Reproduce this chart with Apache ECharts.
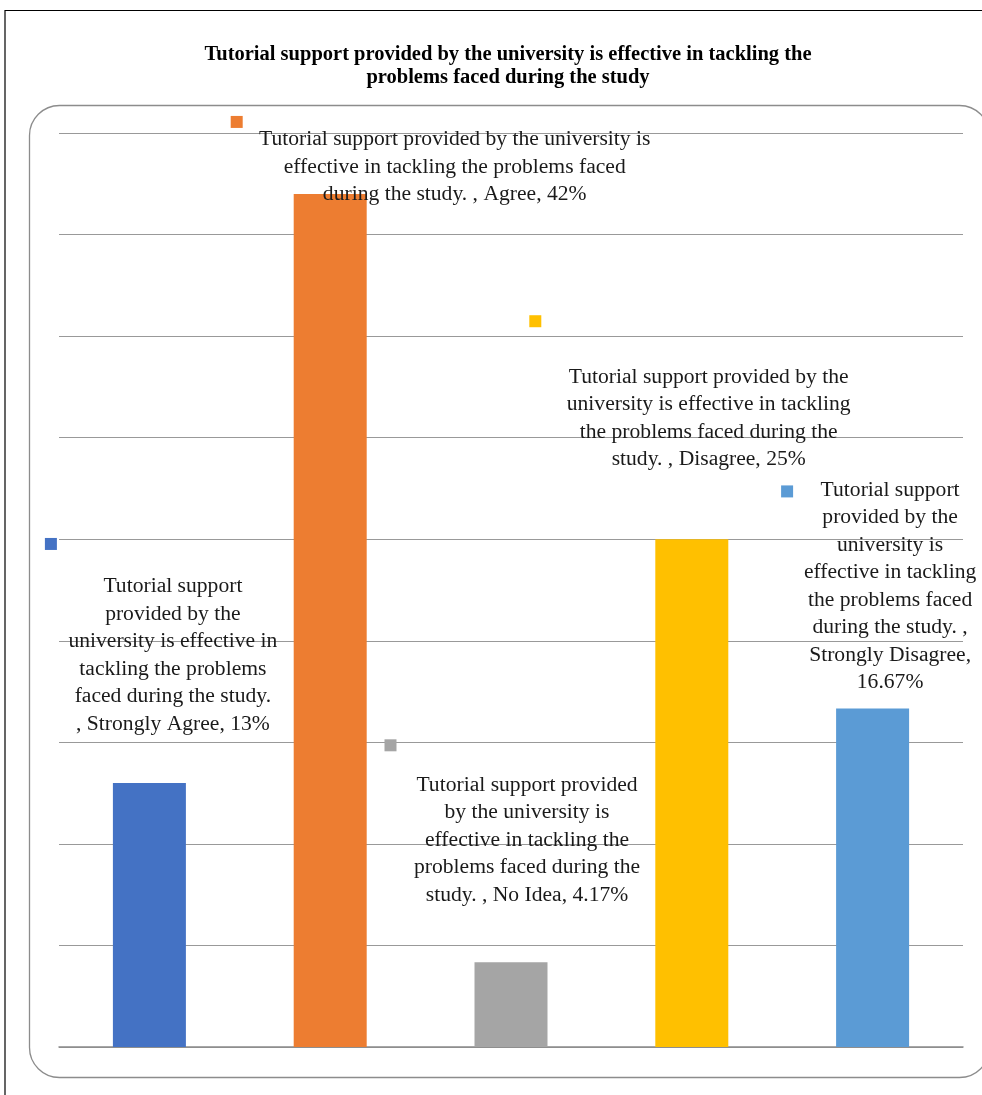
<!DOCTYPE html>
<html>
<head>
<meta charset="utf-8">
<title>Tutorial support</title>
<script src="https://cdn.jsdelivr.net/npm/echarts@6/dist/echarts.min.js"></script>
<style>
  html, body { margin: 0; padding: 0; background: #ffffff; }
  #chart { width: 982px; height: 1095px; }
</style>
</head>
<body>
<div id="chart"></div>
<script>
// Survey responses for one statement
const statement = 'Tutorial support provided by the university is effective in tackling the problems faced during the study.';
const categories = ['Strongly Agree', 'Agree', 'No Idea', 'Disagree', 'Strongly Disagree'];
const shares = [13, 42, 4.17, 25, 16.67];
const barColors = ['#4472C4', '#ED7D31', '#A5A5A5', '#FFC000', '#5B9BD5'];
// words per line for each callout (the remainder goes on the last line)
const lineWordCounts = [
  [2, 3, 4, 3, 4],
  [7, 6],
  [3, 4, 4, 4],
  [5, 5, 5],
  [2, 3, 2, 3, 3, 4, 2]
];
const yTicks = [0, 45, 5]; // min, max, interval

// callout placement relative to each bar's top-left corner
const calloutLayout = [
  { text: [60, -210], key: [-68, -245] },
  { text: [161, -68], key: [-63, -78] },
  { text: [52.5, -191], key: [-90, -223] },
  { text: [53.4, -176], key: [-126, -224] },
  { text: [54, -232], key: [-55, -223] }
];

function calloutText(i) {
  const words = (statement + ' , ' + categories[i] + ', ' + shares[i] + '%').split(' ');
  const lines = [];
  let pos = 0;
  lineWordCounts[i].forEach(n => { lines.push(words.slice(pos, pos + n).join(' ')); pos += n; });
  lines.push(words.slice(pos).join(' '));
  return lines.join('\n');
}

const serif = '"Liberation Serif", "DejaVu Serif", serif';

const chart = echarts.init(document.getElementById('chart'), null, { renderer: 'canvas' });

chart.setOption({
  animation: false,
  backgroundColor: '#ffffff',
  title: {
    text: 'Tutorial support provided by the university is effective in tackling the\nproblems faced during the study',
    left: 503,
    top: 38,
    textAlign: 'center',
    textStyle: {
      fontFamily: serif,
      fontWeight: 'bold',
      fontSize: 20.5,
      lineHeight: 23,
      color: '#000000'
    }
  },
  graphic: [
    { type: 'polyline', z: -10, silent: true,
      shape: { points: [[5, 1095], [5, 10.5], [982, 10.5]] },
      style: { stroke: '#000000', lineWidth: 1.2, fill: null } },
    { type: 'rect', z: -10, silent: true,
      shape: { x: 29.5, y: 105.5, width: 960, height: 972, r: 30 },
      style: { stroke: '#8c8c8c', lineWidth: 1.3, fill: null } }
  ],
  grid: { left: 59, right: 19, top: 133, bottom: 48, containLabel: false },
  xAxis: {
    type: 'category',
    data: categories,
    axisLine: { show: true, lineStyle: { color: '#8a8a8a', width: 1.5 } },
    axisTick: { show: false },
    axisLabel: { show: false },
    splitLine: { show: false }
  },
  yAxis: {
    type: 'value',
    min: yTicks[0],
    max: yTicks[1],
    interval: yTicks[2],
    axisLine: { show: false },
    axisTick: { show: false },
    axisLabel: { show: false },
    splitLine: { show: true, lineStyle: { color: '#999999', width: 1 } }
  },
  series: [
    {
      type: 'bar',
      name: 'shares',
      barWidth: 73,
      barGap: '-100%',
      z: 2,
      data: shares.map((v, i) => ({
        value: v,
        itemStyle: { color: barColors[i] },
        label: {
          show: true,
          position: calloutLayout[i].text,
          align: 'center',
          verticalAlign: 'top',
          formatter: calloutText(i),
          fontFamily: serif,
          fontSize: 21.6,
          lineHeight: 27.5,
          color: '#1a1a1a'
        }
      }))
    },
    {
      type: 'bar',
      name: 'keys',
      barWidth: 73,
      barGap: '-100%',
      z: 3,
      silent: true,
      data: shares.map((v, i) => ({
        value: v,
        itemStyle: { color: 'rgba(0,0,0,0)' },
        label: {
          show: true,
          position: calloutLayout[i].key,
          align: 'left',
          verticalAlign: 'top',
          formatter: '{k|}',
          rich: { k: { width: 12, height: 12, backgroundColor: barColors[i] } }
        }
      }))
    }
  ]
});
</script>
</body>
</html>
